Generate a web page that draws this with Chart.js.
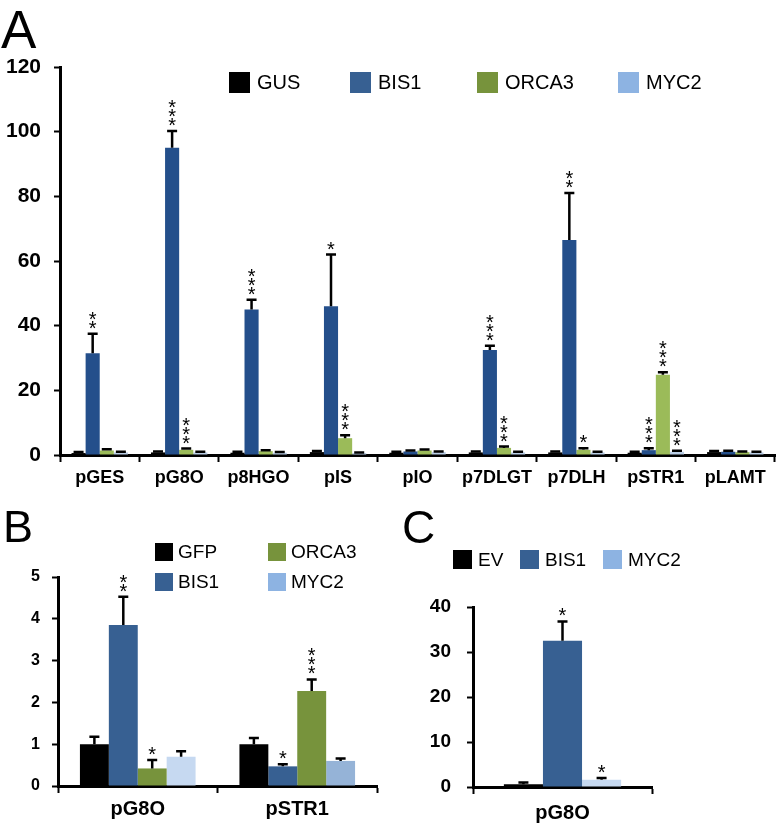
<!DOCTYPE html>
<html>
<head>
<meta charset="utf-8">
<script src="https://cdn.jsdelivr.net/npm/chart.js@4.4.1/dist/chart.umd.min.js"></script>
<style>
html, body { margin: 0; padding: 0; background: #fff; }
#wrap { position: relative; width: 778px; height: 827px; }
canvas { position: absolute; }
</style>
</head>
<body>
<div id="wrap">
  <canvas id="chartA" width="778" height="500" style="left:0;top:0"></canvas>
  <canvas id="chartB" width="390" height="337" style="left:0;top:490px"></canvas>
  <canvas id="chartC" width="388" height="337" style="left:390px;top:490px"></canvas>
</div>
<script>
// ---- panel A data ----
const promotersA = ['pGES', 'pG8O', 'p8HGO', 'pIS', 'pIO', 'p7DLGT', 'p7DLH', 'pSTR1', 'pLAMT'];
const gusA = [0.6, 0.8, 0.7, 0.9, 0.7, 0.8, 0.8, 0.7, 0.9];
const gusErrA = [0.3, 0.3, 0.3, 0.3, 0.3, 0.3, 0.3, 0.3, 0.3];
const bis1A = [31.5, 95, 45, 46, 1.1, 32.5, 66.5, 1.5, 1.0];
const bis1ErrA = [6, 5.2, 3, 16, 0.3, 1.3, 14.5, 0.6, 0.3];
const bis1StarsA = ['**', '***', '***', '*', '', '***', '**', '***', ''];
const orca3A = [1.4, 1.6, 1.2, 5.2, 1.4, 2.2, 1.6, 24.8, 0.9];
const orca3ErrA = [0.4, 0.4, 0.3, 0.9, 0.3, 0.4, 0.5, 0.8, 0.2];
const orca3StarsA = ['', '***', '', '***', '', '***', '*', '***', ''];
const myc2A = [0.8, 0.8, 0.7, 0.6, 0.9, 0.8, 0.8, 1.0, 0.8];
const myc2ErrA = [0.2, 0.2, 0.2, 0.2, 0.2, 0.2, 0.2, 0.3, 0.2];
const myc2StarsA = ['', '', '', '', '', '', '', '***', ''];

// ---- panel B data ----
const promotersB = ['pG8O', 'pSTR1'];
const gfpB = [1.0, 1.0];
const gfpErrB = [0.18, 0.15];
const bis1B = [3.85, 0.47];
const bis1ErrB = [0.68, 0.05];
const bis1StarsB = ['**', '*'];
const orca3B = [0.42, 2.27];
const orca3ErrB = [0.2, 0.28];
const orca3StarsB = ['*', '***'];
const myc2B = [0.7, 0.6];
const myc2ErrB = [0.13, 0.06];

// ---- panel C data ----
const promotersC = ['pG8O'];
const evC = [0.6];
const evErrC = [0.4];
const bis1C = [32.5];
const bis1ErrC = [4.3];
const myc2C = [1.6];
const myc2ErrC = [0.4];

const FONT = "'Liberation Sans', Arial, sans-serif";

// error bars, significance stars, panel letter, legend
const extras = {
  id: 'extras',
  afterDatasetsDraw(chart, args, opts) {
    const ctx = chart.ctx;
    const ys = chart.scales.y;
    chart.data.datasets.forEach((ds, di) => {
      const meta = chart.getDatasetMeta(di);
      meta.data.forEach((bar, i) => {
        const err = ds.errors ? ds.errors[i] : 0;
        const top = ys.getPixelForValue(ds.data[i] + err);
        ctx.save();
        if (err > 0) {
          ctx.strokeStyle = '#000';
          ctx.lineWidth = opts.errWidth;
          ctx.beginPath();
          ctx.moveTo(bar.x, bar.y);
          ctx.lineTo(bar.x, top);
          ctx.moveTo(bar.x - opts.cap / 2, top);
          ctx.lineTo(bar.x + opts.cap / 2, top);
          ctx.stroke();
        }
        const s = ds.stars ? ds.stars[i] : '';
        ctx.fillStyle = '#000';
        ctx.font = opts.starSize + 'px ' + FONT;
        ctx.textAlign = 'center';
        ctx.textBaseline = 'alphabetic';
        for (let k = 0; k < s.length; k++) {
          ctx.fillText('*', bar.x, top + opts.starOff - k * opts.starStep);
        }
        ctx.restore();
      });
    });
  },
  afterDraw(chart, args, opts) {
    const ctx = chart.ctx;
    ctx.save();
    ctx.fillStyle = '#000';
    ctx.textBaseline = 'alphabetic';
    ctx.textAlign = 'left';
    ctx.font = opts.letter.size + 'px ' + FONT;
    ctx.fillText(opts.letter.text, opts.letter.x, opts.letter.y);
    const lg = opts.legend;
    ctx.font = lg.size + 'px ' + FONT;
    ctx.textBaseline = 'middle';
    lg.items.forEach(it => {
      ctx.fillStyle = it.color;
      ctx.fillRect(it.x, it.y, lg.box, lg.box);
      ctx.fillStyle = '#000';
      ctx.fillText(it.text, it.x + lg.box + lg.gap, it.y + lg.box / 2 + 1);
    });
    ctx.restore();
  }
};
Chart.register(extras);

function makeOptions(cfg) {
  return {
    responsive: false,
    animation: false,
    devicePixelRatio: 1,
    layout: { padding: cfg.padding },
    plugins: { legend: { display: false }, tooltip: { enabled: false }, extras: cfg.extras },
    scales: {
      x: {
        grid: { drawOnChartArea: false, drawTicks: true, tickLength: 7, tickWidth: 2, tickColor: '#000', offset: true },
        border: { color: '#000', width: 3 },
        ticks: { color: '#000', padding: cfg.xPad, font: { family: FONT, size: cfg.xSize, weight: 'bold' } },
        afterFit(a) { a.height = cfg.xHeight; }
      },
      y: {
        min: 0, max: cfg.max,
        grid: { drawOnChartArea: false, drawTicks: true, tickLength: 6, tickWidth: 2, tickColor: '#000' },
        border: { color: '#000', width: 3 },
        ticks: { color: '#000', stepSize: cfg.step, padding: cfg.yPad, font: { family: FONT, size: cfg.ySize, weight: 'bold' } },
        afterFit(a) { a.width = cfg.yWidth; }
      }
    }
  };
}

const barBase = { barPercentage: 1.0, borderWidth: 0 };

// panel A
new Chart(document.getElementById('chartA'), {
  type: 'bar',
  data: {
    labels: promotersA,
    datasets: [
      { ...barBase, categoryPercentage: 0.71, label: 'GUS', data: gusA, errors: gusErrA, backgroundColor: '#000000' },
      { ...barBase, categoryPercentage: 0.71, label: 'BIS1', data: bis1A, errors: bis1ErrA, stars: bis1StarsA, backgroundColor: '#244f8b' },
      { ...barBase, categoryPercentage: 0.71, label: 'ORCA3', data: orca3A, errors: orca3ErrA, stars: orca3StarsA, backgroundColor: '#9bbb59' },
      { ...barBase, categoryPercentage: 0.71, label: 'MYC2', data: myc2A, errors: myc2ErrA, stars: myc2StarsA, backgroundColor: '#b9cde5' }
    ]
  },
  options: makeOptions({
    padding: { left: 0, right: 3, top: 67, bottom: 0 },
    max: 120, step: 20, ySize: 21, yPad: 13, yWidth: 60,
    xSize: 18, xPad: 5, xHeight: 45,
    extras: {
      errWidth: 2.5, cap: 10, starSize: 20, starOff: 1, starStep: 9,
      letter: { text: 'A', x: 1, y: 48, size: 53 },
      legend: {
        box: 21, gap: 7, size: 20,
        items: [
          { text: 'GUS', color: '#000000', x: 229, y: 72 },
          { text: 'BIS1', color: '#376092', x: 350, y: 72 },
          { text: 'ORCA3', color: '#77933c', x: 477, y: 72 },
          { text: 'MYC2', color: '#8db3e2', x: 618, y: 72 }
        ]
      }
    }
  })
});

// panel B
new Chart(document.getElementById('chartB'), {
  type: 'bar',
  data: {
    labels: promotersB,
    datasets: [
      { ...barBase, categoryPercentage: 0.725, label: 'GFP', data: gfpB, errors: gfpErrB, backgroundColor: '#000000' },
      { ...barBase, categoryPercentage: 0.725, label: 'BIS1', data: bis1B, errors: bis1ErrB, stars: bis1StarsB, backgroundColor: '#376092' },
      { ...barBase, categoryPercentage: 0.725, label: 'ORCA3', data: orca3B, errors: orca3ErrB, stars: orca3StarsB, backgroundColor: '#77933c' },
      { ...barBase, categoryPercentage: 0.725, label: 'MYC2', data: myc2B, errors: myc2ErrB, backgroundColor: ['#c6d9f1', '#95b3d7'] }
    ]
  },
  options: makeOptions({
    padding: { left: 0, right: 13, top: 87, bottom: 0 },
    max: 5, step: 1, ySize: 16, yPad: 12, yWidth: 58,
    xSize: 20, xPad: 4, xHeight: 41,
    extras: {
      errWidth: 2.5, cap: 10, starSize: 20, starOff: 1, starStep: 9,
      letter: { text: 'B', x: 3, y: 52, size: 45 },
      legend: {
        box: 18, gap: 5, size: 19,
        items: [
          { text: 'GFP', color: '#000000', x: 155, y: 53 },
          { text: 'ORCA3', color: '#77933c', x: 268, y: 53 },
          { text: 'BIS1', color: '#376092', x: 155, y: 83 },
          { text: 'MYC2', color: '#8db3e2', x: 268, y: 83 }
        ]
      }
    }
  })
});

// panel C
new Chart(document.getElementById('chartC'), {
  type: 'bar',
  data: {
    labels: promotersC,
    datasets: [
      { ...barBase, categoryPercentage: 0.655, label: 'EV', data: evC, errors: evErrC, backgroundColor: '#000000' },
      { ...barBase, categoryPercentage: 0.655, label: 'BIS1', data: bis1C, errors: bis1ErrC, stars: ['*'], backgroundColor: '#376092' },
      { ...barBase, categoryPercentage: 0.655, label: 'MYC2', data: myc2C, errors: myc2ErrC, stars: ['*'], backgroundColor: '#c6d9f1' }
    ]
  },
  options: makeOptions({
    padding: { left: 0, right: 126, top: 117, bottom: 0 },
    max: 40, step: 10, ySize: 19, yPad: 16, yWidth: 83,
    xSize: 20, xPad: 7, xHeight: 40,
    extras: {
      errWidth: 2.5, cap: 10, starSize: 20, starOff: 1, starStep: 9,
      letter: { text: 'C', x: 12, y: 53, size: 46 },
      legend: {
        box: 19, gap: 6, size: 19,
        items: [
          { text: 'EV', color: '#000000', x: 63, y: 60 },
          { text: 'BIS1', color: '#376092', x: 130, y: 60 },
          { text: 'MYC2', color: '#8db3e2', x: 213, y: 60 }
        ]
      }
    }
  })
});
</script>
</body>
</html>
